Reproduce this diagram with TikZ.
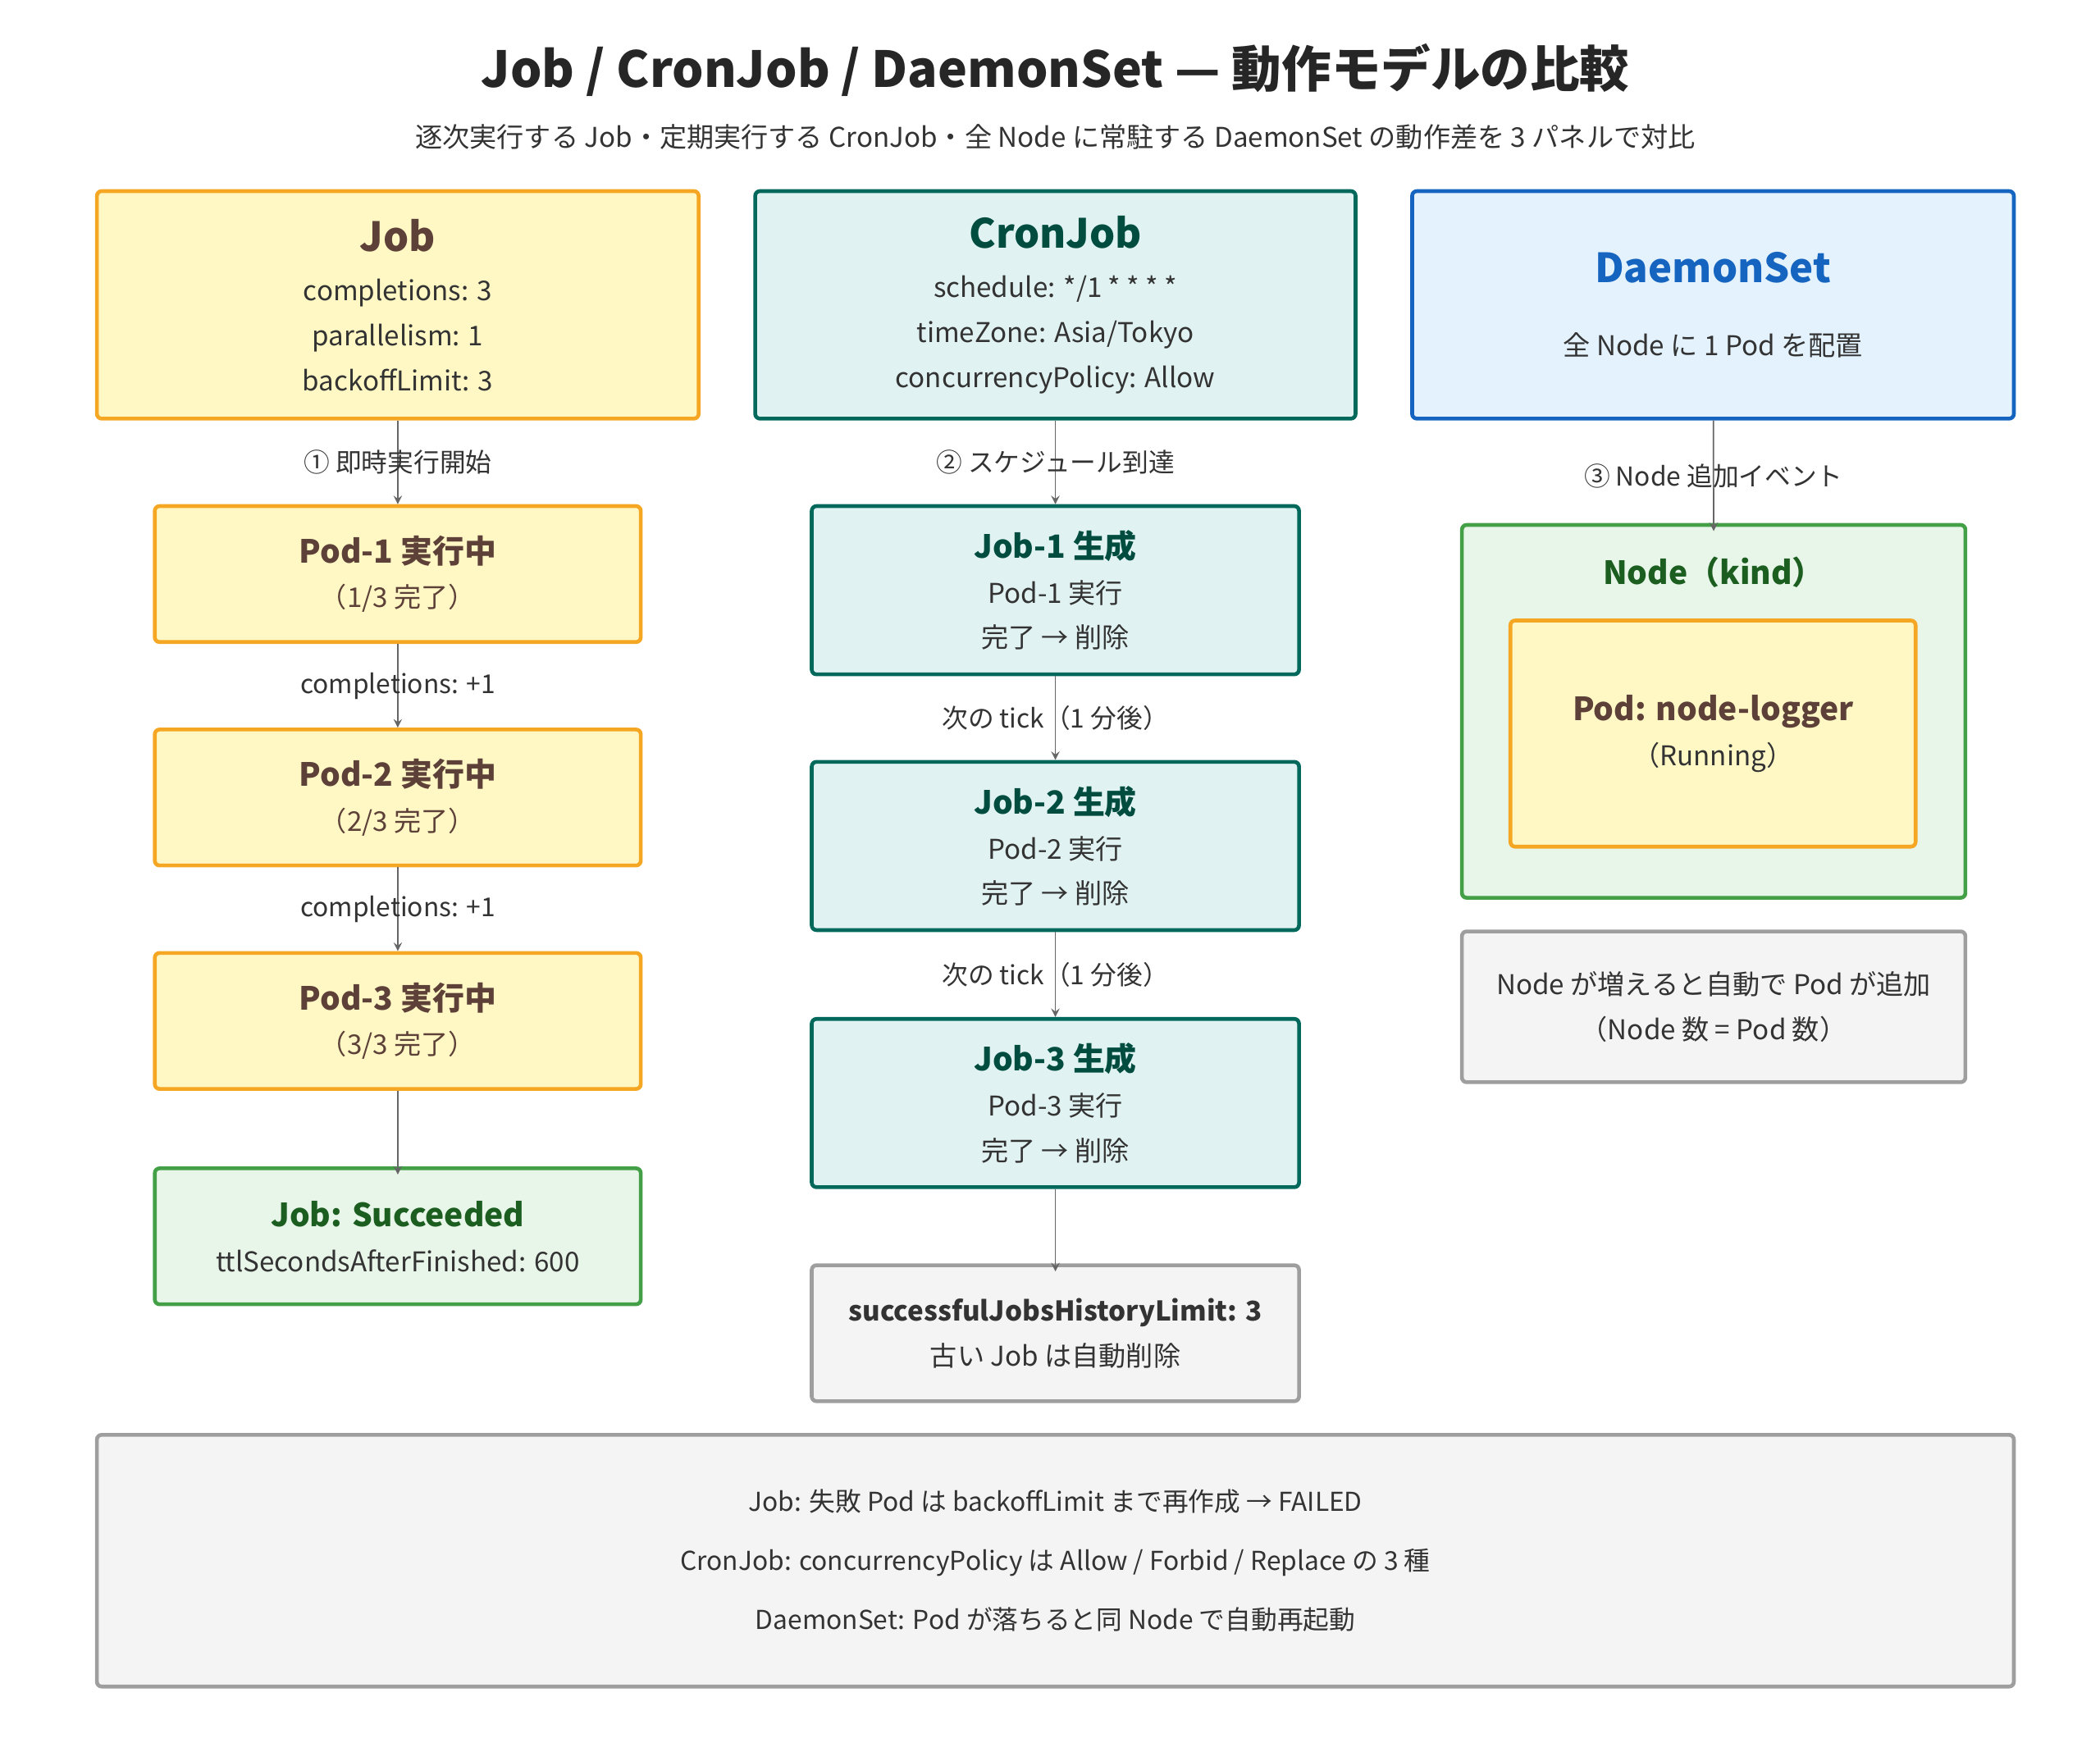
\documentclass[tikz,border=0pt]{standalone}
\usepackage{fontspec}
\setmainfont{Noto Sans CJK JP}
\usetikzlibrary{positioning}
\definecolor{jobfill}{HTML}{FFF8C5}
\definecolor{jobline}{HTML}{F5A623}
\definecolor{jobtext}{HTML}{5D4037}
\definecolor{cronfill}{HTML}{E0F2F1}
\definecolor{cronline}{HTML}{00695C}
\definecolor{crontext}{HTML}{004D40}
\definecolor{dsfill}{HTML}{E3F2FD}
\definecolor{dsline}{HTML}{1565C0}
\definecolor{okfill}{HTML}{E8F5E9}
\definecolor{okline}{HTML}{43A047}
\definecolor{oktext}{HTML}{1B5E20}
\definecolor{notefill}{HTML}{F4F4F4}
\definecolor{noteline}{HTML}{9E9E9E}
\tikzset{
  box/.style={draw,line width=1.6pt,rounded corners=2pt,align=center,font=\fontsize{11.5}{19}\selectfont},
  jobbox/.style={box,fill=jobfill,draw=jobline,text=jobtext},
  cronbox/.style={box,fill=cronfill,draw=cronline,text=black!80},
  dsbox/.style={box,fill=dsfill,draw=dsline,text=black!80},
  okbox/.style={box,fill=okfill,draw=okline,text=black!80},
  notebox/.style={box,fill=notefill,draw=noteline,text=black!80},
  lbl/.style={font=\fontsize{11}{14}\selectfont,text=black!80},
  flow/.style={->,>=stealth,draw=black!60,line width=0.6pt}
}
\newcommand{\hd}[2]{{\fontsize{#1}{#1}\selectfont\bfseries #2}}
\begin{document}
\begin{tikzpicture}[x=0.02cm,y=-0.02cm]
    \useasboundingbox (0,0) rectangle (1560,1308);
    \node[font=\fontsize{21}{24}\selectfont\bfseries,text=black!85] (title) at (784,52) {Job / CronJob / DaemonSet — 動作モデルの比較};
    \node[lbl,font=\fontsize{11.5}{14}\selectfont] (sub) at (784,102) {逐次実行する Job・定期実行する CronJob・全 Node に常駐する DaemonSet の動作差を 3 パネルで対比};

    % panels
    \node[jobbox,minimum width=447*0.02cm,minimum height=169*0.02cm] (job) at (295.5,226.5) {\hd{17}{Job}\\[2pt]{\color{black!80}completions: 3}\\{\color{black!80}parallelism: 1}\\{\color{black!80}backoffLimit: 3}};
    \node[cronbox,minimum width=446*0.02cm,minimum height=169*0.02cm] (cron) at (784,226.5) {\hd{17}{\color{crontext}CronJob}\\[2pt]schedule: */1 * * * *\\timeZone: Asia/Tokyo\\concurrencyPolicy: Allow};
    \node[dsbox,minimum width=447*0.02cm,minimum height=169*0.02cm] (ds) at (1272.5,226.5) {\hd{17}{\color{dsline}DaemonSet}\\[12pt]全 Node に 1 Pod を配置};

    % Job column
    \node[jobbox,minimum width=361*0.02cm,minimum height=101*0.02cm] (pod1) at (295.5,426.5) {\hd{13.5}{Pod-1 実行中}\\（1/3 完了）};
    \node[jobbox,minimum width=361*0.02cm,minimum height=101*0.02cm] (pod2) at (295.5,592.5) {\hd{13.5}{Pod-2 実行中}\\（2/3 完了）};
    \node[jobbox,minimum width=361*0.02cm,minimum height=101*0.02cm] (pod3) at (295.5,758.5) {\hd{13.5}{Pod-3 実行中}\\（3/3 完了）};
    \node[okbox,minimum width=361*0.02cm,minimum height=101*0.02cm] (done) at (295.5,918.5) {\hd{13.5}{\color{oktext}Job: Succeeded}\\ttlSecondsAfterFinished: 600};

    % CronJob column
    \node[cronbox,minimum width=362*0.02cm,minimum height=125*0.02cm] (cj1) at (784,438.5) {\hd{13.5}{\color{crontext}Job-1 生成}\\Pod-1 実行\\完了 → 削除};
    \node[cronbox,minimum width=362*0.02cm,minimum height=125*0.02cm] (cj2) at (784,628.5) {\hd{13.5}{\color{crontext}Job-2 生成}\\Pod-2 実行\\完了 → 削除};
    \node[cronbox,minimum width=362*0.02cm,minimum height=125*0.02cm] (cj3) at (784,819.5) {\hd{13.5}{\color{crontext}Job-3 生成}\\Pod-3 実行\\完了 → 削除};
    \node[notebox,minimum width=362*0.02cm,minimum height=101*0.02cm] (hist) at (784,990.5) {\textbf{successfulJobsHistoryLimit: 3}\\古い Job は自動削除};

    % DaemonSet column
    \node[okbox,minimum width=374*0.02cm,minimum height=277*0.02cm] (node) at (1273,528.5) {};
    \node[font=\fontsize{13.5}{16}\selectfont\bfseries,text=oktext] (nodet) at (1273,425) {Node（kind）};
    \node[jobbox,minimum width=301*0.02cm,minimum height=168*0.02cm] (dpod) at (1272.5,545) {\hd{13.5}{Pod: node-logger}\\{\color{black!80}（Running）}};
    \node[notebox,minimum width=374*0.02cm,minimum height=112*0.02cm] (dnote) at (1273,748) {Node が増えると自動で Pod が追加\\（Node 数 = Pod 数）};

    % summary
    \node[notebox,minimum width=1424*0.02cm,minimum height=187*0.02cm,font=\fontsize{11}{25}\selectfont] (sum) at (784,1159.5) {Job: 失敗 Pod は backoffLimit まで再作成 → FAILED\\CronJob: concurrencyPolicy は Allow / Forbid / Replace の 3 種\\DaemonSet: Pod が落ちると同 Node で自動再起動};

    \draw [flow] (job) to node[lbl]{① 即時実行開始} (pod1);
    \draw [flow] (pod1) to node[lbl]{completions: +1} (pod2);
    \draw [flow] (pod2) to node[lbl]{completions: +1} (pod3);
    \draw [flow] (pod3) to ([yshift=-0.12cm]done.north);
    \draw [flow] (cron) to node[lbl]{② スケジュール到達} (cj1);
    \draw [flow] (cj1) to node[lbl]{次の tick（1 分後）} (cj2);
    \draw [flow] (cj2) to node[lbl]{次の tick（1 分後）} (cj3);
    \draw [flow] (cj3) to ([yshift=-0.12cm]hist.north);
    \draw [flow] (ds) to node[lbl]{③ Node 追加イベント} ([yshift=-0.12cm]node.north);
\end{tikzpicture}
\end{document}
